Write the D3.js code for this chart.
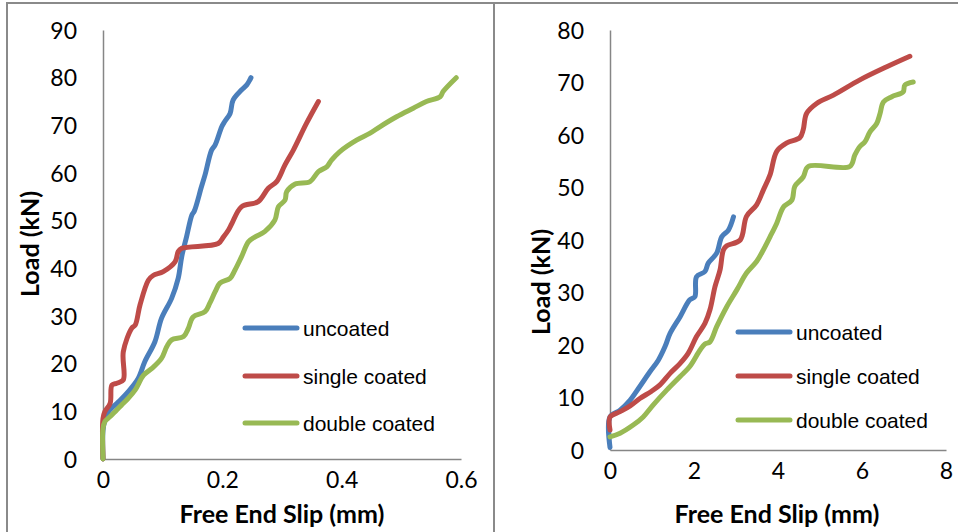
<!DOCTYPE html>
<html><head><meta charset="utf-8">
<script src="https://cdn.jsdelivr.net/npm/d3@7"></script>
<style>html,body{margin:0;padding:0;background:#fff;overflow:hidden}</style>
</head><body>
<svg id="c" width="958" height="532"></svg>
<script>
// ---------- data ----------
const seriesNames = ["uncoated", "single coated", "double coated"];
const seriesColors = ["#4A7EBB", "#BE4B48", "#98B954"];

// Left panel (slip 0–0.6 mm, load 0–90 kN)
const leftTicksX = [0, 0.2, 0.4, 0.6];
const leftTicksY = [0, 10, 20, 30, 40, 50, 60, 70, 80, 90];
const leftUncoatedX = [0, 0, 0.003, 0.009, 0.026, 0.042, 0.059, 0.070, 0.087, 0.098, 0.115, 0.126, 0.132, 0.140, 0.149, 0.153, 0.165, 0.171, 0.182, 0.188, 0.199, 0.204, 0.213, 0.218, 0.232, 0.241, 0.246, 0.248];
const leftUncoatedY = [0, 6, 8, 9.9, 12, 14.1, 16.9, 20.4, 24.6, 29.5, 33.7, 37.9, 42.5, 46.6, 51.2, 52, 57.1, 59.6, 64.8, 65.9, 69.7, 70.8, 72.5, 75.3, 77.4, 78.5, 79.5, 80];
const leftSingleX = [0, 0, 0.003, 0.012, 0.015, 0.023, 0.034, 0.034, 0.048, 0.054, 0.062, 0.076, 0.084, 0.101, 0.121, 0.126, 0.132, 0.193, 0.202, 0.210, 0.216, 0.232, 0.260, 0.277, 0.291, 0.305, 0.319, 0.341, 0.361];
const leftSingleY = [0, 8.5, 9.9, 11.7, 15.5, 15.9, 16.6, 22.5, 27.4, 28.1, 32.3, 37.5, 38.5, 39.3, 41.4, 43.5, 44.2, 45.2, 46.6, 48, 49.4, 52.9, 54, 56.8, 58.2, 61.7, 64.8, 70.4, 75];
const leftDoubleX = [0, 0, 0.003, 0.012, 0.023, 0.031, 0.042, 0.054, 0.068, 0.082, 0.098, 0.107, 0.115, 0.135, 0.143, 0.151, 0.171, 0.179, 0.188, 0.196, 0.213, 0.221, 0.232, 0.244, 0.255, 0.271, 0.288, 0.294, 0.305, 0.308, 0.322, 0.347, 0.361, 0.375, 0.383, 0.397, 0.425, 0.447, 0.464, 0.492, 0.520, 0.542, 0.565, 0.570, 0.592];
const leftDoubleY = [0, 6.4, 7.8, 8.9, 10.3, 11.3, 12.7, 14.5, 17.6, 19, 21.1, 23.6, 25, 25.7, 27.4, 29.8, 30.9, 32.7, 35.1, 36.9, 37.9, 39.6, 42.4, 45.6, 46.6, 47.7, 50.1, 52.9, 54.3, 56.1, 57.7, 58.2, 60.3, 61.3, 62.7, 64.5, 66.9, 68.3, 69.7, 71.8, 73.6, 75, 76, 77.1, 80];

// Right panel (slip 0–8 mm, load 0–80 kN)
const rightTicksX = [0, 2, 4, 6, 8];
const rightTicksY = [0, 10, 20, 30, 40, 50, 60, 70, 80];
const rightUncoatedX = [0, 0, 0.24, 0.48, 0.71, 0.95, 1.15, 1.31, 1.43, 1.67, 1.90, 2.02, 2.06, 2.26, 2.34, 2.54, 2.66, 2.82, 2.94];
const rightUncoatedY = [0.5, 6.3, 7.6, 9.5, 12.1, 14.9, 17.1, 19.7, 22.2, 25.4, 28.6, 29.2, 33, 34, 35.6, 37.5, 40.6, 41.9, 44.4];
const rightSingleX = [0, 0, 0.24, 0.48, 0.71, 0.99, 1.19, 1.43, 1.67, 1.86, 2.06, 2.26, 2.38, 2.50, 2.62, 2.70, 2.78, 3.10, 3.25, 3.49, 3.65, 3.81, 3.97, 4.21, 4.52, 4.60, 4.68, 4.92, 5.32, 5.95, 6.59, 7.14];
const rightSingleY = [3.8, 6.3, 7.3, 8.4, 9.8, 11.2, 12.4, 14.6, 16.5, 18.4, 21.6, 24.1, 26.7, 31.1, 34.3, 38.1, 38.9, 40, 44.5, 46.7, 49.5, 52.4, 56.9, 58.5, 59.5, 61, 64.1, 66, 67.6, 70.5, 73, 75];
const rightDoubleX = [0, 0.24, 0.56, 0.79, 1.03, 1.35, 1.67, 1.90, 2.14, 2.26, 2.38, 2.54, 2.78, 3.02, 3.25, 3.49, 3.65, 3.81, 3.97, 4.13, 4.33, 4.40, 4.60, 4.72, 5.71, 5.83, 5.95, 6.07, 6.19, 6.35, 6.43, 6.51, 6.71, 6.98, 7.02, 7.22];
const rightDoubleY = [2.5, 3.2, 4.8, 6.3, 8.6, 11.4, 14, 15.9, 19, 20.2, 20.6, 23.5, 27.3, 30.5, 33.7, 35.9, 38.1, 40.6, 43.2, 46.3, 47.6, 50.2, 52, 54, 54, 56.2, 57.8, 58.7, 60.6, 62.2, 64.1, 66.3, 67.3, 68.2, 69.5, 70.1];

const xTitle = "Free End Slip (mm)";
const yTitle = "Load (kN)";

// ---------- drawing ----------
const svg = d3.select("#c");
const frameColor = "#8A8A8A";
const tickFont = "Lato, 'Open Sans', sans-serif";
// panel frames
svg.append("rect").attr("x", 7).attr("y", 3).attr("width", 487).attr("height", 560)
  .attr("fill", "none").attr("stroke", frameColor).attr("stroke-width", 2);
svg.append("rect").attr("x", 494).attr("y", 3).attr("width", 480).attr("height", 560)
  .attr("fill", "none").attr("stroke", frameColor).attr("stroke-width", 2);

function zip(xs, ys) { return xs.map((x, i) => [x, ys[i]]); }

function panel(cfg) {
  const x = d3.scaleLinear().domain(cfg.xDomain).range([cfg.left, cfg.right]);
  const y = d3.scaleLinear().domain(cfg.yDomain).range([cfg.bottom, cfg.top]);
  const g = svg.append("g");

  const yAxis = g.append("g").attr("transform", `translate(${cfg.left},0)`)
    .call(d3.axisLeft(y).tickValues(cfg.ticksY).tickSize(0).tickPadding(26).tickFormat(d3.format("d")));
  const xAxis = g.append("g").attr("transform", `translate(0,${cfg.bottom})`)
    .call(d3.axisBottom(x).tickValues(cfg.ticksX).tickSize(0).tickPadding(24).tickFormat(d => String(d)));
  [xAxis, yAxis].forEach(a => {
    a.select(".domain").attr("stroke", "#868686").attr("stroke-width", 1.5);
    a.selectAll("text").attr("font-family", tickFont).attr("font-size", 23).attr("fill", "#000");
  });
  xAxis.selectAll("text").attr("dy", "0.2em");
  yAxis.selectAll("text").attr("dy", "0.36em");

  const line = d3.line().x(d => x(d[0])).y(d => y(d[1])).curve(d3.curveCatmullRom.alpha(0.5));
  cfg.series.forEach((s, i) => {
    g.append("path").datum(s).attr("d", line)
      .attr("fill", "none").attr("stroke", seriesColors[i]).attr("stroke-width", 5)
      .attr("stroke-linejoin", "round").attr("stroke-linecap", "round");
  });

  seriesNames.forEach((n, i) => {
    const ly = cfg.legendY[i];
    g.append("line").attr("x1", cfg.legendX).attr("x2", cfg.legendX + 52).attr("y1", ly).attr("y2", ly)
      .attr("stroke", seriesColors[i]).attr("stroke-width", 5).attr("stroke-linecap", "round");
    g.append("text").attr("x", cfg.legendX + 58).attr("y", ly).attr("dy", "0.36em")
      .attr("font-family", "'Liberation Sans', Arial, sans-serif").attr("font-size", 21).attr("fill", "#000").text(n);
  });

  g.append("text").attr("x", cfg.xTitleX).attr("y", cfg.xTitleY).attr("dy", "0.36em")
    .attr("text-anchor", "middle").attr("font-family", tickFont)
    .attr("font-weight", "bold").attr("font-size", 25).attr("fill", "#000").text(xTitle);
  g.append("text").attr("transform", `translate(${cfg.yTitleX},${cfg.yTitleY}) rotate(-90)`).attr("dy", "0.36em")
    .attr("text-anchor", "middle").attr("font-family", tickFont)
    .attr("font-weight", "bold").attr("font-size", 25).attr("fill", "#000").text(yTitle);
}

panel({
  xDomain: [0, 0.6], yDomain: [0, 90], left: 103, right: 461, top: 30, bottom: 459,
  ticksX: leftTicksX, ticksY: leftTicksY,
  series: [zip(leftUncoatedX, leftUncoatedY), zip(leftSingleX, leftSingleY), zip(leftDoubleX, leftDoubleY)],
  legendX: 245, legendY: [328, 376, 423],
  xTitleX: 282, xTitleY: 514, yTitleX: 30, yTitleY: 244
});
panel({
  xDomain: [0, 8], yDomain: [0, 80], left: 610, right: 946, top: 30, bottom: 450,
  ticksX: rightTicksX, ticksY: rightTicksY,
  series: [zip(rightUncoatedX, rightUncoatedY), zip(rightSingleX, rightSingleY), zip(rightDoubleX, rightDoubleY)],
  legendX: 738, legendY: [332, 376, 420],
  xTitleX: 777, xTitleY: 514, yTitleX: 541, yTitleY: 282
});
</script>
</body></html>
